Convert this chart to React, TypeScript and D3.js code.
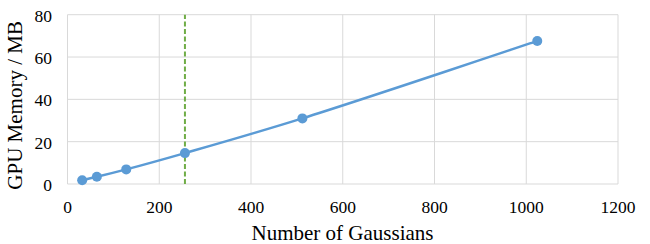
import React from "react";
import * as d3 from "d3";

const gaussians = [32, 64, 128, 256, 512, 1024];
const memoryMB = [1.8, 3.4, 6.9, 14.6, 31.0, 67.6];
const xTicks = [0, 200, 400, 600, 800, 1000, 1200];
const yTicks = [0, 20, 40, 60, 80];
const markerX = 256;

export default function App() {
  const W = 650, H = 244;
  const x = d3.scaleLinear().domain([0, 1200]).range([67.5, 618]);
  const y = d3.scaleLinear().domain([0, 80]).range([184, 14.7]);
  const pts = gaussians.map((g, i) => [g, memoryMB[i]] as [number, number]);
  const line = d3.line<[number, number]>()
    .x(d => x(d[0])).y(d => y(d[1]))
    .curve(d3.curveCatmullRom.alpha(0.5));
  const font = "'Liberation Serif', 'Times New Roman', serif";
  return (
    <svg width={W} height={H} style={{ position: "absolute", left: 0, top: 0, background: "#fff" }}>
      {yTicks.map(t => (
        <line key={"gy" + t} x1={x(0)} x2={x(1200)} y1={y(t)} y2={y(t)} stroke="#D9D9D9" strokeWidth={1} />
      ))}
      {xTicks.map(t => (
        <line key={"gx" + t} x1={x(t)} x2={x(t)} y1={y(0)} y2={y(80)} stroke="#D9D9D9" strokeWidth={1} />
      ))}
      <line x1={x(markerX)} x2={x(markerX)} y1={y(0)} y2={y(80)} stroke="#70AD47" strokeWidth={2} strokeDasharray="5,2.5" />
      <path d={line(pts) || ""} fill="none" stroke="#5B9BD5" strokeWidth={2.5} />
      {pts.map((p, i) => (
        <circle key={i} cx={x(p[0])} cy={y(p[1])} r={5} fill="#5B9BD5" />
      ))}
      {xTicks.map(t => (
        <text key={"tx" + t} x={x(t)} y={212.5} textAnchor="middle" fontFamily={font} fontSize={17.5} fill="#000">{t}</text>
      ))}
      {yTicks.map(t => (
        <text key={"ty" + t} x={52} y={y(t) + 7} textAnchor="end" fontFamily={font} fontSize={17.5} fill="#000">{t}</text>
      ))}
      <text x={342.5} y={240} textAnchor="middle" fontFamily={font} fontSize={21} fill="#000">Number of Gaussians</text>
      <text transform={`translate(22,${(y(0) + y(80)) / 2 + 6}) rotate(-90)`} textAnchor="middle" fontFamily={font} fontSize={21} fill="#000">GPU Memory / MB</text>
    </svg>
  );
}
